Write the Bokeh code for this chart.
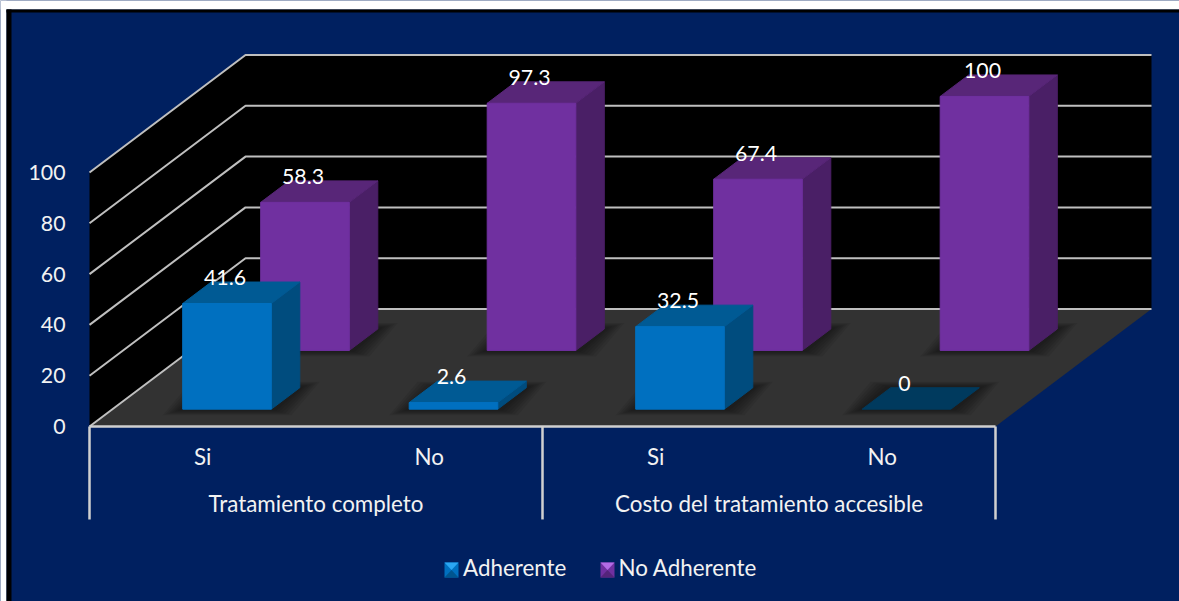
from bokeh.embed import file_html
from bokeh.resources import INLINE
from bokeh.plotting import figure
from bokeh.core.properties import value
from bokeh.models import (LinearAxis, FixedTicker, Range1d, Legend, LegendItem,
                          BoxAnnotation)

# ---- data ----
groups = ["Tratamiento completo", "Costo del tratamiento accesible"]
categories = ["Si", "No", "Si", "No"]
adherente = [41.6, 2.6, 32.5, 0]
no_adherente = [58.3, 97.3, 67.4, 100]
value_ticks = [0, 20, 40, 60, 80, 100]
series_names = ["Adherente", "No Adherente"]

# ---- style ----
NAVY = "#002060"
FONT = "Lato"
FS = "22.4px"
FS_NUM = "21.3px"
TXT = "#F2F2F2"
GRID = "#BFBFBF"
FLOOR = "#323232"
BLUE = dict(front="#0070C0", top="#005A94", side="#004C7E", flat="#003A5E", tri="#2BA6F2", low="#00558F")
PURP = dict(front="#7030A0", top="#582678", side="#4A1F66", flat="#582678", tri="#B36BE6", low="#54247A")

# ---- scales: page pixels <-> data ----
W, H = 1179, 601
X0, Y0, PXU, PYU = 89.0, 426.0, 226.5, 2.54
x_range = Range1d((0 - X0) / PXU, (W - X0) / PXU)
y_range = Range1d((Y0 - H) / PYU, Y0 / PYU)
def px(x):
    return (x - X0) / PXU
def py(y):
    return (Y0 - y) / PYU

# oblique depth of the box, in data units
DX, DY = 156 / PXU, 117.5 / PYU
def proj(u, v, d):
    return u + d * DX, v + d * DY

p = figure(width=W, height=H, x_range=x_range, y_range=y_range, output_backend="svg",
           toolbar_location=None, min_border=0, outline_line_color=None,
           x_axis_type=None, y_axis_type=None,
           background_fill_color=NAVY, border_fill_color=NAVY)
p.grid.visible = False

# ---- walls and floor ----
tv = max(value_ticks)
n = len(categories)
wx, wy = zip(*[proj(0, 0, 0), proj(0, tv, 0), proj(0, tv, 1), proj(n, tv, 1), proj(n, 0, 1), proj(0, 0, 1)])
p.patch(list(wx), list(wy), fill_color="black", line_color=None)
fx, fy = zip(*[proj(0, 0, 0), proj(n, 0, 0), proj(n, 0, 1), proj(0, 0, 1)])
p.patch(list(fx), list(fy), fill_color=FLOOR, line_color=None)

for t in value_ticks:
    gx, gy = zip(*[proj(0, t, 0), proj(0, t, 1), proj(n, t, 1)])
    p.line(list(gx), list(gy), line_color=GRID, line_width=2)
p.line([0, n], [0, 0], line_color="#D0D0D0", line_width=2.5)
p.segment([0, 2, 4], [0, 0, 0], [0, 2, 4], [-36.6] * 3, line_color="#D0D0D0", line_width=2.5)

# ---- bars ----
BX, BW = 70.2 / PXU, 88.6 / PXU
BD = 28.5 / 156

def shadow(u0, u1, d0, d1):
    for e in (20, 17, 14, 11, 8, 5):
        ex, ey = e / PXU, (e * 0.3) / PYU
        xs = [proj(u0, 0, d0)[0] - ex, proj(u1, 0, d0)[0] + ex, proj(u1, 0, d1)[0] + ex, proj(u0, 0, d1)[0] - ex]
        ys = [proj(u0, 0, d0)[1] - ey, proj(u1, 0, d0)[1] - ey, proj(u1, 0, d1)[1] + ey, proj(u0, 0, d1)[1] + ey]
        p.patch(xs, ys, fill_color="black", fill_alpha=0.08, line_color=None)

def bar(i, val, depth, pal):
    u0 = i + BX
    u1 = u0 + BW
    d0, d1 = depth, depth + BD
    shadow(u0, u1, d0, d1)
    def face(pts, color):
        xs, ys = zip(*[proj(*q) for q in pts])
        p.patch(list(xs), list(ys), fill_color=color, line_color=color,
                line_width=1, line_join="round")
    if val == 0:
        face([(u0, 0, d0), (u1, 0, d0), (u1, 0, d1), (u0, 0, d1)], pal["flat"])
        return
    face([(u1, 0, d0), (u1, 0, d1), (u1, val, d1), (u1, val, d0)], pal["side"])
    face([(u0, val, d0), (u1, val, d0), (u1, val, d1), (u0, val, d1)], pal["top"])
    face([(u0, 0, d0), (u1, 0, d0), (u1, val, d0), (u0, val, d0)], pal["front"])

D_BACK, D_FRONT = 101 / 156, 23 / 156
for i, v in enumerate(no_adherente):
    bar(i, v, D_BACK, PURP)
for i, v in enumerate(adherente):
    bar(i, v, D_FRONT, BLUE)

# ---- data labels ----
lx, ly, lt = [], [], []
for vals, dep in ((no_adherente, D_BACK), (adherente, D_FRONT)):
    for i, v in enumerate(vals):
        x, y = proj(i + BX + BW / 2, v, dep)
        lx.append(x); ly.append(y); lt.append(str(v))
p.text(lx, ly, text=lt, text_color="white", text_font=value(FONT), text_font_size=FS_NUM,
       text_align="center", text_baseline="middle", x_offset=-2, y_offset=-26)

# ---- group labels ----
p.text([1, 3], [-30.3, -30.3], text=groups, text_color=TXT, text_font=value(FONT),
       text_font_size=FS, text_align="center", text_baseline="middle")

# ---- axes ----
yax = LinearAxis(fixed_location=0, ticker=FixedTicker(ticks=value_ticks))
yax.axis_line_color = None
yax.major_tick_line_color = None
yax.minor_tick_line_color = None
yax.major_label_text_color = TXT
yax.major_label_text_font = FONT
yax.major_label_text_font_size = FS_NUM
yax.major_label_standoff = 18
p.add_layout(yax, "left")

xax = LinearAxis(fixed_location=0, ticker=FixedTicker(ticks=[0.5, 1.5, 2.5, 3.5]))
xax.major_label_overrides = {0.5: categories[0], 1.5: categories[1], 2.5: categories[2], 3.5: categories[3]}
xax.axis_line_color = None
xax.major_tick_line_color = None
xax.minor_tick_line_color = None
xax.major_label_text_color = TXT
xax.major_label_text_font = FONT
xax.major_label_text_font_size = FS
xax.major_label_standoff = 10
p.add_layout(xax, "below")

# ---- legend keys, with their bevel; the legend's own swatch is left clear ----
def key(x0, pal):
    x = [px(x0), px(x0 + 14), px(x0 + 14), px(x0)]
    y = [py(577), py(577), py(562), py(562)]
    p.patch(x, y, fill_color=pal["front"], line_color=None)
    p.patch([px(x0), px(x0 + 14), px(x0 + 7)], [py(562), py(562), py(569.5)],
            fill_color=pal["tri"], line_color=None)
    p.patch([px(x0), px(x0 + 14), px(x0 + 7)], [py(577), py(577), py(569.5)],
            fill_color=pal["low"], line_color=None)
    return p.patch(x, y, fill_alpha=0, line_alpha=0)
key_a = key(444, BLUE)
key_b = key(600, PURP)

leg = Legend(items=[LegendItem(label=series_names[0], renderers=[key_a]),
                    LegendItem(label=series_names[1], renderers=[key_b])],
             orientation="horizontal", location=(444, 20), margin=0, padding=0,
             spacing=33, glyph_width=14, glyph_height=15, label_standoff=5,
             background_fill_alpha=0, border_line_color=None,
             label_text_color=TXT, label_text_font=FONT, label_text_font_size=FS)
p.add_layout(leg, "center")

# ---- frame of the slide (screen boxes count from the bottom edge) ----
def box(color, left, right, top, bottom):
    p.add_layout(BoxAnnotation(left=left, right=right, top=H - top, bottom=H - bottom,
                               left_units="screen", right_units="screen", top_units="screen",
                               bottom_units="screen", fill_color=color, fill_alpha=1,
                               line_color=None))
box("white", 0, W, 0, 9)
box("white", 0, 6, 0, H)
box("black", 6, W, 9, 12)
box("black", 6, 11, 9, H)

open("out.html", "w").write(file_html(p, INLINE))
